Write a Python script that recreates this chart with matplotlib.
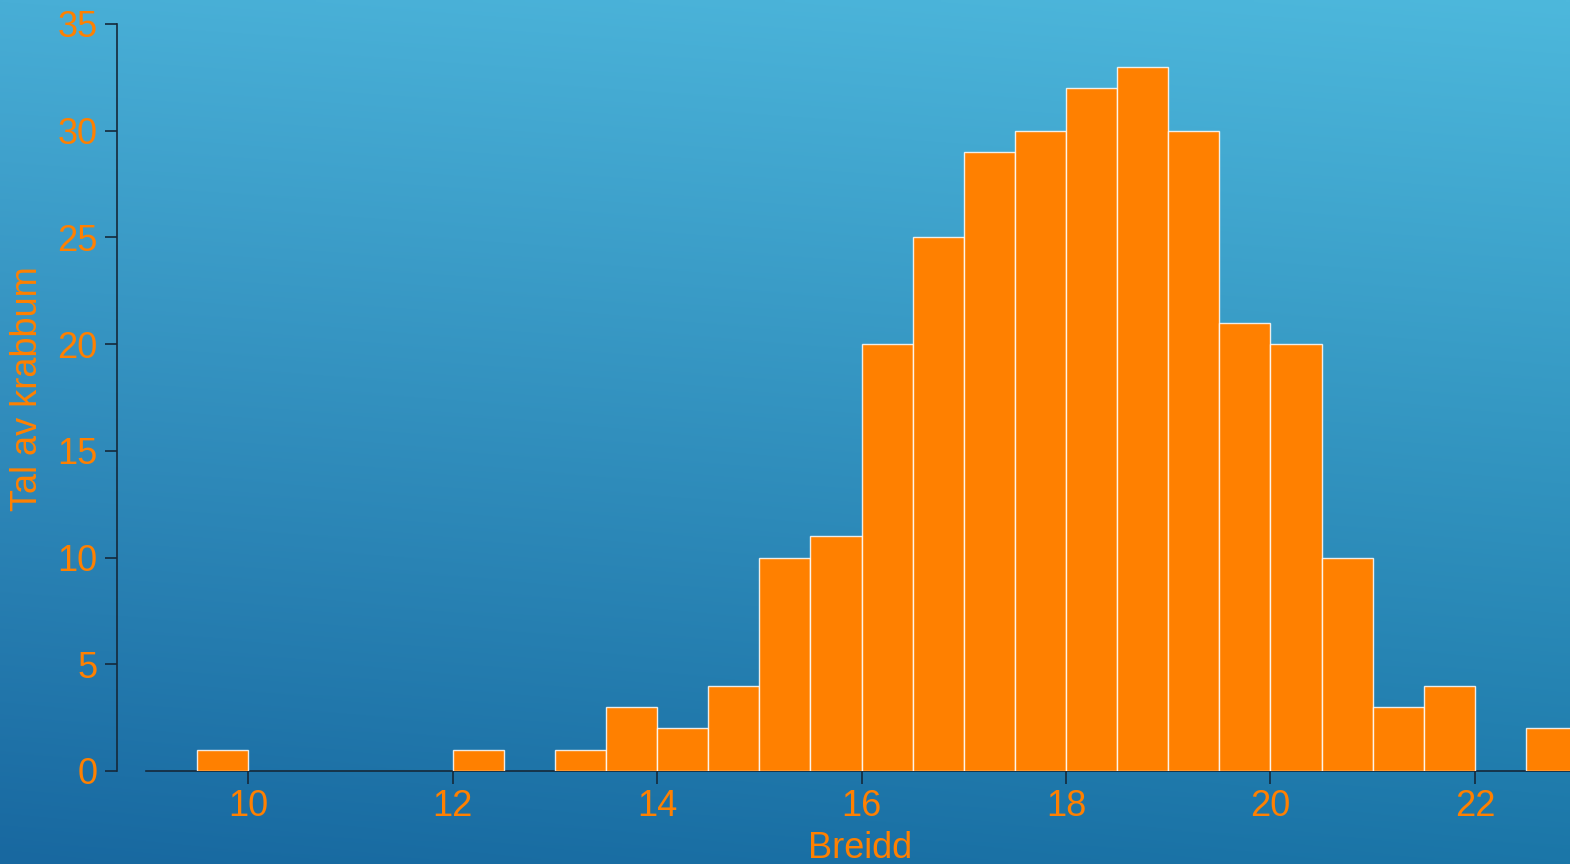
import numpy as np
import matplotlib
matplotlib.use("Agg")
import matplotlib.pyplot as plt

# Data
bin_left = [9.5, 10.0, 10.5, 11.0, 11.5, 12.0, 12.5, 13.0, 13.5, 14.0, 14.5, 15.0,
            15.5, 16.0, 16.5, 17.0, 17.5, 18.0, 18.5, 19.0, 19.5, 20.0, 20.5, 21.0,
            21.5, 22.0, 22.5]
counts = [1, 0, 0, 0, 0, 1, 0, 1, 3, 2, 4, 10,
          11, 20, 25, 29, 30, 32, 33, 30, 21, 20, 10, 3,
          4, 0, 2]
bin_width = 0.5
x_ticks = [10, 12, 14, 16, 18, 20, 22]
y_ticks = [0, 5, 10, 15, 20, 25, 30, 35]
x_label = "Breidd"
y_label = "Tal av krabbum"

plt.rcParams['font.family'] = ['Liberation Sans', 'DejaVu Sans']
ORANGE = "#FF8000"
FS = 26
W, H = 1570, 864
fig = plt.figure(figsize=(W / 100, H / 100), dpi=100)

# gradient background
bg = fig.add_axes([0, 0, 1, 1])
bg.set_axis_off()
yy, xx = np.mgrid[0:1:200j, 0:1:200j]
top_l = np.array([0x48, 0xAE, 0xD6]) / 255
top_r = np.array([0x4D, 0xB8, 0xDC]) / 255
bot_l = np.array([0x18, 0x68, 0xA0]) / 255
bot_r = np.array([0x1B, 0x76, 0xA8]) / 255
img = ((1 - yy)[..., None] * ((1 - xx)[..., None] * top_l + xx[..., None] * top_r)
       + yy[..., None] * ((1 - xx)[..., None] * bot_l + xx[..., None] * bot_r))
bg.imshow(img, aspect='auto', extent=[0, 1, 0, 1], origin='upper', interpolation='bilinear')
bg.set_xlim(0, 1); bg.set_ylim(0, 1)

# main axes
left_px, right_px = 146, 1570
top_px, bot_px = 24, 771
ax = fig.add_axes([left_px / W, (H - bot_px) / H, (right_px - left_px) / W, (bot_px - top_px) / H])
ax.patch.set_alpha(0)

xs = [b for b, c in zip(bin_left, counts) if c > 0]
hs = [c for c in counts if c > 0]
ax.bar(xs, hs, width=bin_width, align='edge', color=ORANGE,
       edgecolor=(1, 1, 1, 0.85), linewidth=1.0, zorder=3)

ax.set_xlim(9.0, 22.93)
ax.set_ylim(0, 35)

for s in ['top', 'right']:
    ax.spines[s].set_visible(False)
spcol = "#15293a"
ax.spines['left'].set_position(('outward', 29 * 72 / 100))
ax.spines['left'].set_color(spcol)
ax.spines['bottom'].set_color(spcol)
ax.spines['left'].set_linewidth(1.2)
ax.spines['bottom'].set_linewidth(1.2)
ax.spines['bottom'].set_zorder(2)

ax.set_xticks(x_ticks)
ax.set_yticks(y_ticks)
ax.tick_params(axis='both', colors=spcol, labelcolor=ORANGE, labelsize=FS,
               length=9, width=1.2, direction='out')
ax.tick_params(axis='y', pad=5)
ax.tick_params(axis='x', pad=4)

fig.text(28 / W, (H - 389) / H, y_label, color=ORANGE, fontsize=FS,
         rotation=90, ha='center', va='center')
fig.text(860 / W, (H - 849) / H, x_label, color=ORANGE, fontsize=FS,
         ha='center', va='center')

fig.savefig("out.png", dpi=100)
